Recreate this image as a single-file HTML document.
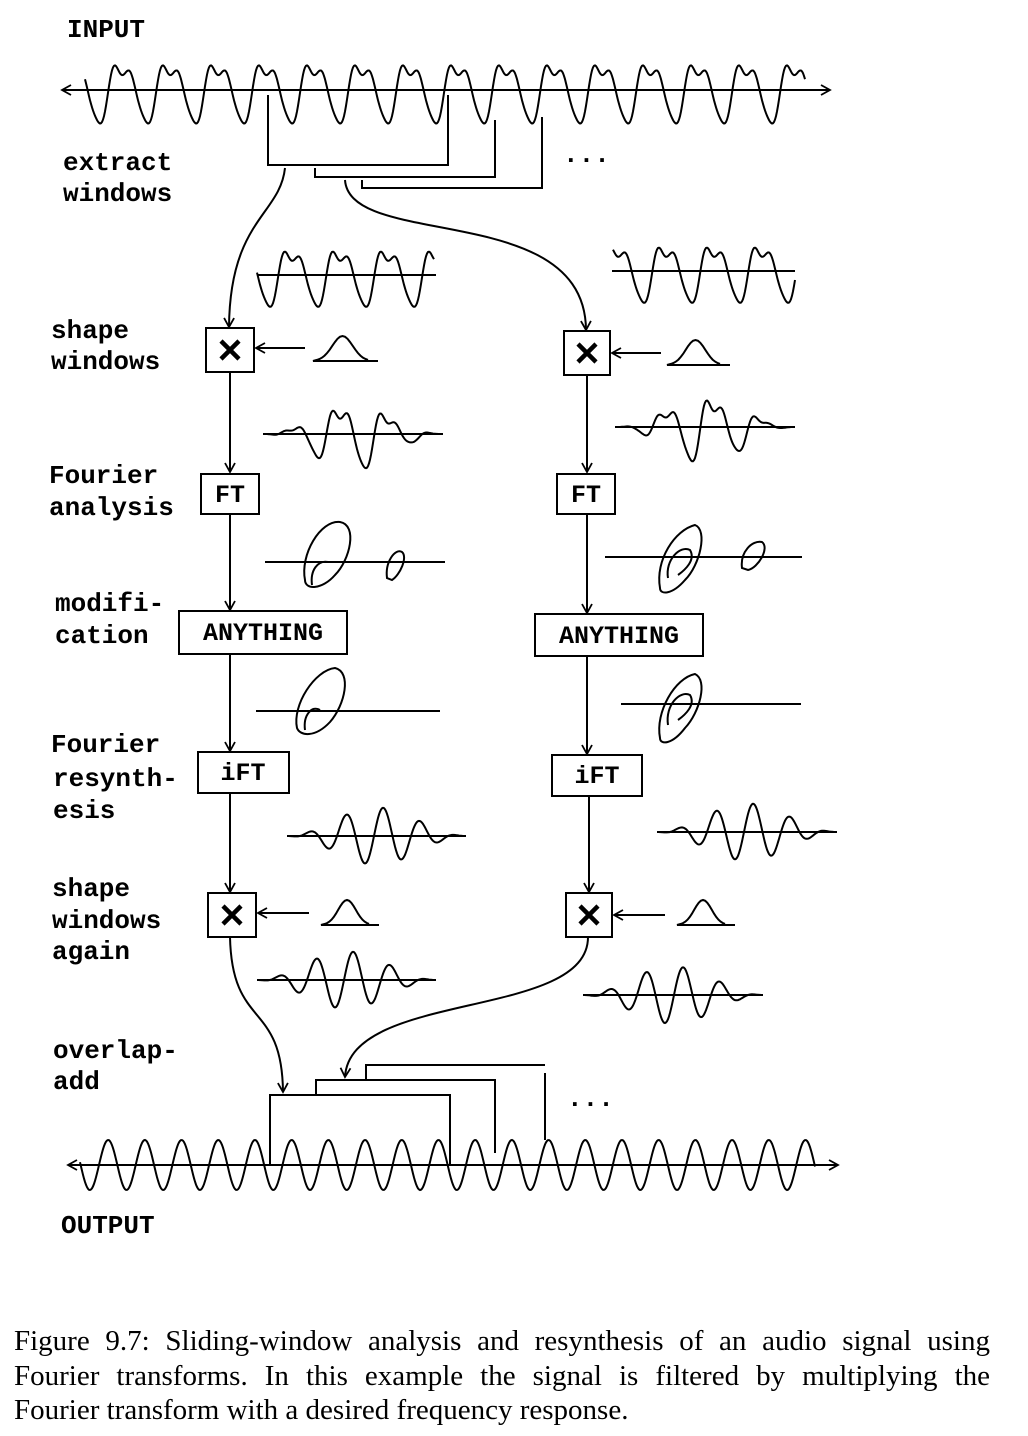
<!DOCTYPE html>
<html><head><meta charset="utf-8">
<style>
html,body{margin:0;padding:0;background:#fff;}
body{width:1028px;height:1436px;position:relative;overflow:hidden;}
svg{position:absolute;left:0;top:0;}
.lbl{font-family:"Liberation Mono",monospace;font-weight:bold;font-size:26px;fill:#000;}
.bx{font-family:"Liberation Mono",monospace;font-weight:bold;font-size:25px;fill:#000;}
.cap{position:absolute;left:14px;top:1324px;width:976px;font-family:"Liberation Serif",serif;font-size:29px;line-height:34.5px;color:#000;}
.cap div{text-align:justify;text-align-last:justify;white-space:nowrap;}
.cap div.last{text-align-last:left;}
</style></head><body>
<svg width="1028" height="1436" viewBox="0 0 1028 1436" fill="none" stroke="#000" stroke-width="2">
<defs>
<marker id="ar" markerWidth="14" markerHeight="14" refX="10" refY="6" orient="auto-start-reverse" markerUnits="userSpaceOnUse">
<path d="M1,1 L10,6 L1,11" fill="none" stroke="#000" stroke-width="1.8"/>
</marker>
</defs>
<g stroke="none" fill="#000">
<text class="lbl" x="67" y="37">INPUT</text>
<text class="lbl" x="63" y="170">extract</text>
<text class="lbl" x="63" y="201">windows</text>
<text class="lbl" x="51" y="338">shape</text>
<text class="lbl" x="51" y="369">windows</text>
<text class="lbl" x="49" y="483">Fourier</text>
<text class="lbl" x="49" y="515">analysis</text>
<text class="lbl" x="55" y="611">modifi-</text>
<text class="lbl" x="55" y="643">cation</text>
<text class="lbl" x="51" y="752">Fourier</text>
<text class="lbl" x="53" y="786">resynth-</text>
<text class="lbl" x="53" y="818">esis</text>
<text class="lbl" x="52" y="896">shape</text>
<text class="lbl" x="52" y="928">windows</text>
<text class="lbl" x="52" y="959">again</text>
<text class="lbl" x="53" y="1058">overlap-</text>
<text class="lbl" x="53" y="1089">add</text>
<text class="lbl" x="61" y="1233">OUTPUT</text>
<text class="lbl" x="563" y="162">...</text>
<text class="lbl" x="567" y="1106">...</text>
<text class="bx" x="230" y="502" text-anchor="middle">FT</text>
<text class="bx" x="586" y="502" text-anchor="middle">FT</text>
<text class="bx" x="263" y="640" text-anchor="middle">ANYTHING</text>
<text class="bx" x="619" y="643" text-anchor="middle">ANYTHING</text>
<text class="bx" x="243" y="780" text-anchor="middle">iFT</text>
<text class="bx" x="597" y="783" text-anchor="middle">iFT</text>
</g>
<line x1="62" y1="90" x2="830" y2="90" marker-end="url(#ar)" marker-start="url(#ar)"/>
<line x1="68" y1="1165" x2="838" y2="1165" marker-end="url(#ar)" marker-start="url(#ar)"/>
<path id="win" d=""/>
<path id="wout" d=""/>
<polyline points="268,95 268,165 448,165 448,95"/>
<polyline points="315,168 315,177 495,177 495,120"/>
<polyline points="362,180 362,188 542,188 542,117"/>
<polyline points="270,1165 270,1095 450,1095 450,1165"/>
<polyline points="316,1095 316,1080 495,1080 495,1153"/>
<polyline points="366,1080 366,1065 545,1065"/>
<line x1="545" y1="1073" x2="545" y2="1140"/>
<path d="M285,168 C280,215 230,220 229,327" marker-end="url(#ar)"/>
<path d="M345,180 C350,250 585,200 586,330" marker-end="url(#ar)"/>
<path d="M230,937 C232,1030 282,1000 283,1092" marker-end="url(#ar)"/>
<path d="M588,937 C588,1020 350,990 345,1077" marker-end="url(#ar)"/>
<rect x="206" y="328" width="48" height="44"/>
<line x1="230" y1="372" x2="230" y2="472" marker-end="url(#ar)"/>
<rect x="201" y="474" width="58" height="40"/>
<line x1="230" y1="514" x2="230" y2="610" marker-end="url(#ar)"/>
<rect x="179" y="611" width="168" height="43"/>
<line x1="230" y1="654" x2="230" y2="751" marker-end="url(#ar)"/>
<rect x="198" y="752" width="91" height="41"/>
<line x1="230" y1="793" x2="230" y2="892" marker-end="url(#ar)"/>
<rect x="208" y="893" width="48" height="44"/>
<rect x="564" y="331" width="46" height="44"/>
<line x1="587" y1="375" x2="587" y2="472" marker-end="url(#ar)"/>
<rect x="557" y="474" width="58" height="40"/>
<line x1="587" y1="514" x2="587" y2="613" marker-end="url(#ar)"/>
<rect x="535" y="614" width="168" height="42"/>
<line x1="587" y1="656" x2="587" y2="754" marker-end="url(#ar)"/>
<rect x="552" y="755" width="90" height="41"/>
<line x1="589" y1="796" x2="589" y2="892" marker-end="url(#ar)"/>
<rect x="566" y="893" width="46" height="44"/>
<g stroke-width="4.5">
<path d="M221,341 L239,359 M239,341 L221,359"/>
<path d="M578,344 L596,362 M596,344 L578,362"/>
<path d="M223,906 L241,924 M241,906 L223,924"/>
<path d="M580,906 L598,924 M598,906 L580,924"/>
</g>
<line x1="305" y1="348" x2="256" y2="348" marker-end="url(#ar)"/>
<line x1="661" y1="353" x2="612" y2="353" marker-end="url(#ar)"/>
<line x1="309" y1="913" x2="258" y2="913" marker-end="url(#ar)"/>
<line x1="665" y1="915" x2="614" y2="915" marker-end="url(#ar)"/>
<path class="g" data-x="313" data-y="361" data-w="65" d=""/>
<path class="g" data-x="667" data-y="365" data-w="63" d=""/>
<path class="g" data-x="321" data-y="925" data-w="58" d=""/>
<path class="g" data-x="677" data-y="925" data-w="58" d=""/>
<line x1="257" y1="275" x2="436" y2="275"/>
<line x1="612" y1="271" x2="795" y2="271"/>
<line x1="263" y1="434" x2="443" y2="434"/>
<line x1="615" y1="427" x2="795" y2="427"/>
<line x1="265" y1="562" x2="445" y2="562"/>
<line x1="605" y1="557" x2="802" y2="557"/>
<line x1="256" y1="711" x2="440" y2="711"/>
<line x1="621" y1="704" x2="801" y2="704"/>
<line x1="287" y1="836" x2="466" y2="836"/>
<line x1="657" y1="832" x2="837" y2="832"/>
<line x1="257" y1="980" x2="436" y2="980"/>
<line x1="583" y1="995" x2="763" y2="995"/>
<path id="s1" d=""/><path id="s2" d=""/><path id="s3" d=""/><path id="s4" d=""/>
<path id="s5" d=""/><path id="s6" d=""/><path id="s7" d=""/><path id="s8" d=""/>
<g>
<path d="M305,580 C300,555 320,520 340,522 C358,525 350,560 335,575 C322,590 305,590 305,580 Z"/>
<path d="M312,585 C310,570 318,560 328,562"/>
<path d="M387,578 C385,562 395,548 402,552 C408,557 400,575 392,580 Z"/>
<path d="M660,588 C655,560 675,530 695,525 C708,530 700,565 685,580 C672,595 660,595 660,588 Z"/>
<path d="M668,578 C665,560 680,545 690,550 C696,560 685,570 678,575"/>
<path d="M742,568 C740,552 752,540 762,542 C770,548 758,568 748,570 Z"/>
<path d="M297,728 C292,705 315,670 335,668 C352,672 345,705 330,722 C315,738 300,736 297,728 Z"/>
<path d="M305,730 C303,715 312,705 320,710"/>
<path d="M660,738 C655,712 675,678 695,674 C708,680 700,712 685,728 C672,745 660,745 660,738 Z"/>
<path d="M668,725 C665,705 680,690 690,695 C696,705 685,715 678,720"/>
</g>
</svg>
<div class="cap">
<div>Figure 9.7: Sliding-window analysis and resynthesis of an audio signal using</div>
<div>Fourier transforms. In this example the signal is filtered by multiplying the</div>
<div class="last">Fourier transform with a desired frequency response.</div>
</div>
<script>
function mk(x0,x1,f){var d="";for(var x=x0;x<=x1;x+=1){var y=f(x);d+=(x==x0?"M":"L")+x.toFixed(1)+","+y.toFixed(1);}return d;}
var P=2*Math.PI;
function sig(x,ph){return 27*Math.sin(P*(x-ph)/48)+9*Math.sin(P*(x-ph)/24+1.2)+4*Math.sin(P*(x-ph)/16+0.4);}
document.getElementById("win").setAttribute("d",mk(85,805,function(x){return 90-sig(x,110);}));
document.getElementById("wout").setAttribute("d",mk(80,815,function(x){return 1165-25*Math.sin(P*(x-99)/36.7);}));
function hann(x,a,b){var t=(x-a)/(b-a);return t<0||t>1?0:0.5-0.5*Math.cos(P*t);}
function s(id,x0,x1,y,sc,ph,win,amp){document.getElementById(id).setAttribute("d",mk(x0,x1,function(x){var v=sig(x*sc,ph);if(win)v*=hann(x,x0,x1)*1.2;return y-v*(amp||1);}));}
s("s1",257,434,275,1,40,false,0.95);
s("s2",613,795,271,1,30,false,0.95);
s("s3",265,441,434,1,40,true,0.9);
s("s4",617,793,427,1,30,true,0.9);
function sn(id,x0,x1,y,ph){document.getElementById(id).setAttribute("d",mk(x0,x1,function(x){return y-26*Math.sin(P*(x-ph)/37)*hann(x,x0,x1)*1.1;}));}
sn("s5",287,466,836,300);
sn("s6",657,837,832,670);
sn("s7",257,436,980,270);
sn("s8",583,763,995,600);
var gs=document.querySelectorAll(".g");
for(var i=0;i<gs.length;i++){var g=gs[i];var x0=+g.dataset.x,y=+g.dataset.y,w=+g.dataset.w;
var d="M"+(x0+w)+","+y+" L"+x0+","+y;
for(var t=0;t<=1.001;t+=0.05){var xx=x0+4+t*(w-14);d+=" L"+xx.toFixed(1)+","+(y-25*Math.exp(-Math.pow((t-0.5)/0.2,2)/2)).toFixed(1);}
g.setAttribute("d",d);}
</script>
</body></html>
